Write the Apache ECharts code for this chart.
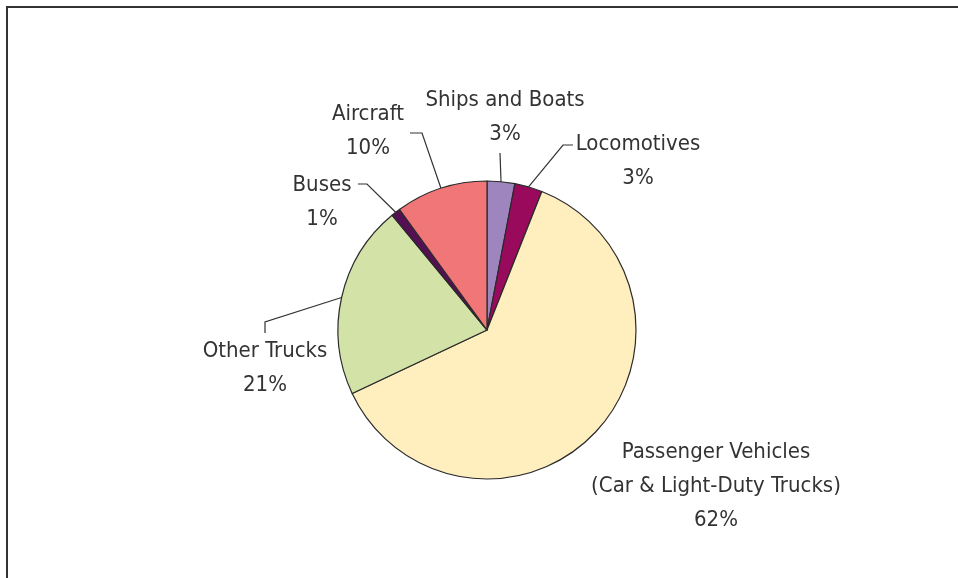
<!DOCTYPE html>
<html>
<head>
<meta charset="utf-8">
<script src="https://cdn.jsdelivr.net/npm/echarts@6/dist/echarts.min.js"></script>
<style>
  html, body { margin: 0; padding: 0; background: #fff; }
  #chart { width: 958px; height: 578px; }
</style>
</head>
<body>
<div id="chart"></div>
<script>
// Transportation energy use by mode, share of total (%)
const categories = [
  'Ships and Boats',
  'Locomotives',
  'Passenger Vehicles\n(Car & Light-Duty Trucks)',
  'Other Trucks',
  'Buses',
  'Aircraft'
];
const shares = [3, 3, 62, 21, 1, 10];
const colors = ['#9f85bd', '#990a5c', '#ffeebe', '#d3e3a8', '#541053', '#f07677'];

// Label block centres and leader-line elbows (pixels)
const labelSpots = [
  { x: 505, y: 117, elbows: [[500, 153]] },
  { x: 638, y: 161, elbows: [[563, 145], [573, 145]] },
  { x: 716, y: 486, elbows: null },
  { x: 265, y: 368, elbows: [[265, 322], [265, 333]] },
  { x: 322, y: 202, elbows: [[367, 184], [358, 184]] },
  { x: 368, y: 131, elbows: [[422, 133], [410, 133]] }
];

const FONT = "'Liberation Sans Narrow', 'DejaVu Sans Condensed', 'Roboto', sans-serif";

const chart = echarts.init(document.getElementById('chart'), null, { renderer: 'canvas' });

chart.setOption({
  animation: false,
  backgroundColor: '#ffffff',
  graphic: [{
    type: 'rect',
    shape: { x: 7, y: 7, width: 1200, height: 1200 },
    style: { fill: 'none', stroke: '#333333', lineWidth: 2 },
    silent: true
  }],
  series: [{
    type: 'pie',
    center: [487, 330],
    radius: 149,
    startAngle: 90,
    clockwise: true,
    avoidLabelOverlap: false,
    itemStyle: { borderColor: '#2a2a2a', borderWidth: 1.2 },
    label: {
      show: true,
      position: 'outside',
      fontFamily: FONT,
      fontSize: 22,
      color: '#333333',
      lineHeight: 34,
      align: 'center',
      verticalAlign: 'middle',
      formatter: p => p.name + '\n' + p.value + '%'
    },
    labelLine: {
      show: true,
      lineStyle: { color: '#333333', width: 1.2 }
    },
    labelLayout: params => {
      const spot = labelSpots[params.dataIndex];
      const out = { x: spot.x, y: spot.y, align: 'center', verticalAlign: 'middle' };
      if (spot.elbows && params.labelLinePoints) {
        out.labelLinePoints = [params.labelLinePoints[0]].concat(spot.elbows);
      }
      return out;
    },
    data: categories.map((name, i) => ({
      name: name,
      value: shares[i],
      itemStyle: { color: colors[i] },
      labelLine: { show: !!labelSpots[i].elbows }
    }))
  }]
});
</script>
</body>
</html>
